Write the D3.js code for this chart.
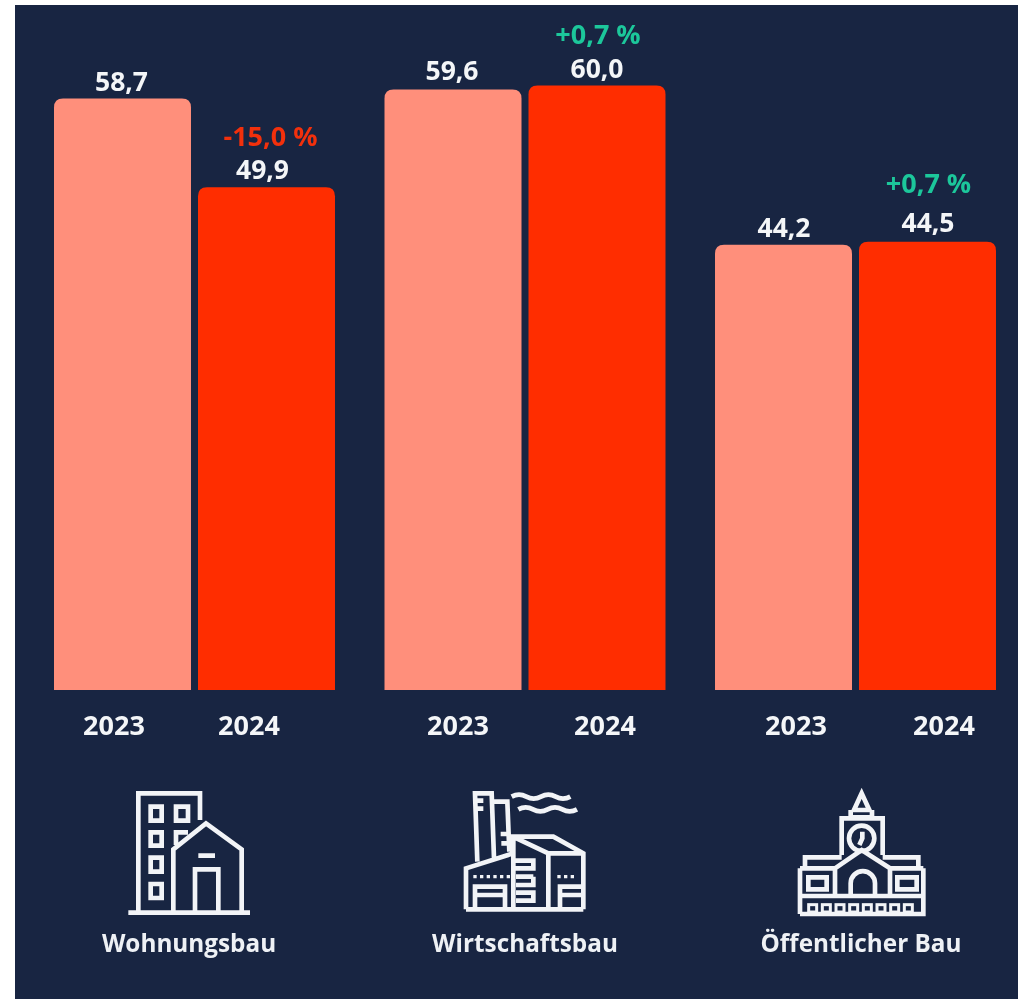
<!DOCTYPE html>
<html><head><meta charset="utf-8">
<script src="https://cdn.jsdelivr.net/npm/d3@7"></script>
<style>html,body{margin:0;background:#fff}svg{display:block;filter:blur(0.5px)}text{font-family:"Open Sans",sans-serif;font-weight:700}</style>
</head><body><svg id="c" width="1018" height="999"></svg>
<script>
const categories = ["Wohnungsbau","Wirtschaftsbau","Öffentlicher Bau"];
const years = ["2023","2024"];
const values2023 = [58.7,59.6,44.2];
const values2024 = [49.9,60.0,44.5];
const changeLabels = ["-15,0 %","+0,7 %","+0,7 %"];
const changeColors = ["#f2300c","#1cc79b","#1cc79b"];
const yearLabelOffsets = [[-8.5,-17.5],[5,8],[12.5,16.5]];
const valueLabelDx = [[-1,-4],[-1,0],[0.5,0.5]];
const valueLabelGap = [[8,8],[10,8],[8,10]];
const changeLabelDx = [4,1,1];
const changeLabelGap = [41,42,49];
const fmt = v => v.toFixed(1).replace(".",",");

const svg = d3.select("#c");
svg.append("rect").attr("x",15).attr("y",5).attr("width",1003).attr("height",994).attr("fill","#182542");

const x0 = d3.scaleBand().domain(categories).range([54,996]).paddingInner(0.1498).paddingOuter(0);
const x1 = d3.scaleBand().domain(years).range([0,x0.bandwidth()]).paddingInner(0.0486);
const y = d3.scaleLinear().domain([0,60]).range([690,85.5]);
const barColors = d3.scaleOrdinal().domain(years).range(["#ff8f7b","#ff2d00"]);
const r = 9;
const barPath = (x,w,t,b) => `M${x},${b}V${t+r}Q${x},${t} ${x+r},${t}H${x+w-r}Q${x+w},${t} ${x+w},${t+r}V${b}Z`;

categories.forEach((c,i)=>{
  const g = svg.append("g").attr("transform",`translate(${x0(c)},0)`);
  const vals = [values2023[i],values2024[i]];
  years.forEach((yr,j)=>{
    const xx = x1(yr), w = x1.bandwidth(), t = y(vals[j]), cx = xx + w/2;
    g.append("path").attr("d",barPath(xx,w,t,y(0))).attr("fill",barColors(yr));
    g.append("text").attr("x",cx+valueLabelDx[i][j]).attr("y",t-valueLabelGap[i][j]).attr("text-anchor","middle")
      .attr("font-size",26.5).attr("fill","#f4f6f8").text(fmt(vals[j]));
    g.append("text").attr("x",cx+yearLabelOffsets[i][j]).attr("y",735).attr("text-anchor","middle")
      .attr("font-size",27).attr("fill","#f4f6f8").text(yr);
    if(j===1) g.append("text").attr("x",cx+changeLabelDx[i]).attr("y",t-changeLabelGap[i]).attr("text-anchor","middle")
      .attr("font-size",27).attr("fill",changeColors[i]).text(changeLabels[i]);
  });
});

const labelCx = [189,525,861];
categories.forEach((c,i)=>svg.append("text").attr("x",labelCx[i]).attr("y",952).attr("text-anchor","middle")
  .attr("font-size",24.3).attr("fill","#eef1f5").text(c));

const icons = [
 {o:[100,770], d:`M115,425V70H300V150 M152,110h33v42h-33Z M228,110h36v42h-36Z M152,187h33v40h-33Z M228,225V187h36 M152,263h33v42h-33Z M152,342h33v42h-33Z
  M220,425V238L318,160L425,238V425 M285,425V298H355V425 M295,257H345 M85,428H450`},
 {o:[430,770], d:`M142,275L135,70H185L192,265 M190,95H232L238,245 M140,92H160 M142,116H160 M212,192H232 M214,220H235
  M245,80q22,-12 44,0t44,0t44,0t44,0 M265,118q22,-12 44,0t44,0t44,0t44,0
  M108,418V295L250,250 M250,418V200H370L460,250V418 M255,203L355,250H460 M355,250V418 M108,418H460
  M135,418V350H225V418 M135,375H225 M390,418V350H458 M390,375H458
  M250,272H310V295H255 M258,320H310 M310,320V345H258 M258,368H310V392H258`},
 {o:[760,770], d:`M305,70L282,120H328Z M272,120V142H336V120 M245,255V145H368V255
  M225,295L305,240L390,295 M135,295V262H245 M368,262H475V295 M120,295H225 M390,295H490 M120,432V295 M490,295V432H120
  M225,295V378 M390,295V378 M120,378H490 M272,378V340A36,36 0 0 1 345,340V378
  M145,322h55v36h-55Z M412,322h58v36h-58Z M298,225L307,205V185`}
];
const iconGroups = icons.map(ic=>{
  const g = svg.append("g").attr("transform",`translate(${ic.o[0]},${ic.o[1]}) scale(${1/3})`)
    .attr("fill","none").attr("stroke","#f2f4f7").attr("stroke-width",14);
  g.append("path").attr("d",ic.d);
  return g;
});
iconGroups[1].append("path").attr("d","M130,320H240 M382,320H442").attr("stroke-dasharray","10 10").attr("stroke-width",10);
iconGroups[2].append("circle").attr("cx",305).attr("cy",205).attr("r",38);
d3.range(8).forEach(k=>iconGroups[2].append("rect").attr("x",146+k*41).attr("y",404).attr("width",24).attr("height",22).attr("stroke-width",9));
</script></body></html>
